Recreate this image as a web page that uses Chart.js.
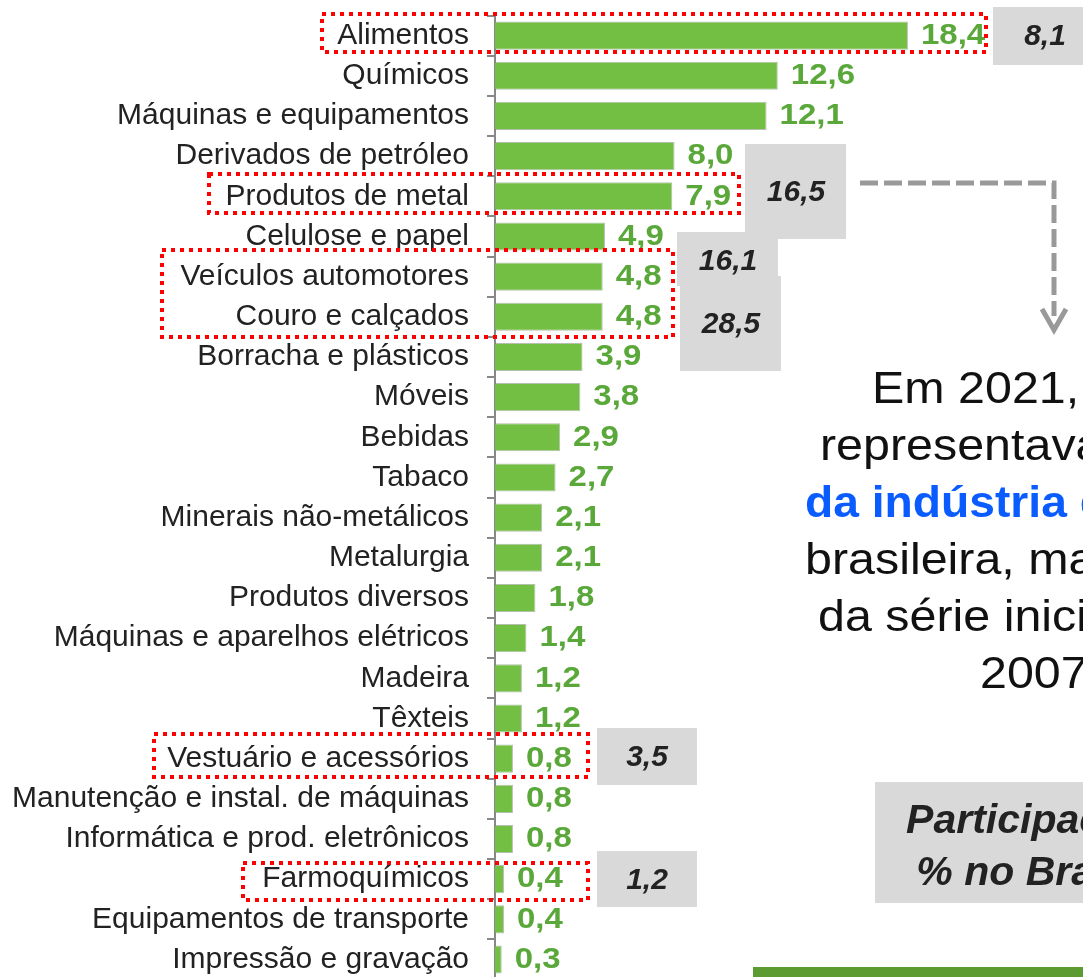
<!DOCTYPE html>
<html>
<head>
<meta charset="utf-8">
<script src="https://cdn.jsdelivr.net/npm/chart.js@4"></script>
<style>
  html, body { margin: 0; padding: 0; background: #fff; overflow: hidden; }
  #wrap { width: 1083px; height: 990px; position: relative; }
</style>
</head>
<body>
<div id="wrap"><canvas id="myChart"></canvas></div>
<script>
// participação dos setores (%)
var setores = [
  "Alimentos", "Químicos", "Máquinas e equipamentos", "Derivados de petróleo",
  "Produtos de metal", "Celulose e papel", "Veículos automotores", "Couro e calçados",
  "Borracha e plásticos", "Móveis", "Bebidas", "Tabaco",
  "Minerais não-metálicos", "Metalurgia", "Produtos diversos",
  "Máquinas e aparelhos elétricos", "Madeira", "Têxteis",
  "Vestuário e acessórios", "Manutenção e instal. de máquinas",
  "Informática e prod. eletrônicos", "Farmoquímicos",
  "Equipamentos de transporte", "Impressão e gravação"
];
var valores = [18.4, 12.6, 12.1, 8.0, 7.9, 4.9, 4.8, 4.8, 3.9, 3.8, 2.9, 2.7,
               2.1, 2.1, 1.8, 1.4, 1.2, 1.2, 0.8, 0.8, 0.8, 0.4, 0.4, 0.3];

// % no Brasil (caixas cinzas)
var partBrasil = ["8,1", "16,5", "16,1", "28,5", "3,5", "1,2"];

var corBarra = "#72bf44";
var corValor = "#5aa83a";
var fonte = "'Liberation Sans', Arial, sans-serif";
Chart.defaults.font.family = fonte;

function fmt(v) { return v.toFixed(1).replace(".", ","); }

// texto com leve esticamento horizontal
function texto(ctx, s, x, y, sx, align) {
  ctx.save();
  ctx.translate(x, y);
  ctx.scale(sx, 1);
  ctx.textAlign = align || "left";
  ctx.fillText(s, 0, 0);
  ctx.restore();
}

var extras = {
  id: "extras",
  afterDatasetsDraw: function(chart) {
    var ctx = chart.ctx;
    var meta = chart.getDatasetMeta(0);

    // rótulos de valor
    ctx.save();
    ctx.font = "bold 30px " + fonte;
    ctx.textBaseline = "middle";
    meta.data.forEach(function(bar, i) {
      ctx.save();
      ctx.translate(bar.x + 13, bar.y);
      ctx.scale(1.1, 1);
      ctx.strokeStyle = "rgba(255,255,255,0.9)";
      ctx.lineWidth = 3;
      ctx.lineJoin = "round";
      ctx.strokeText(fmt(valores[i]), 0, 0);
      ctx.fillStyle = corValor;
      ctx.fillText(fmt(valores[i]), 0, 0);
      ctx.restore();
    });
    ctx.restore();

    // caixas cinzas
    var caixas = [
      [993, 7, 1100, 65, 1045, 37],
      [745, 144, 846, 239, 796, 193],
      [677, 232, 778, 286, 728, 262],
      [680, 276, 781, 371, 731, 325],
      [597, 728, 697, 785, 647, 758],
      [597, 851, 697, 907, 647, 881]
    ];
    ctx.save();
    ctx.fillStyle = "#d9d9d9";
    caixas.forEach(function(c) { ctx.fillRect(c[0], c[1], c[2] - c[0], c[3] - c[1]); });
    ctx.fillStyle = "#222";
    ctx.font = "italic bold 30px " + fonte;
    ctx.textBaseline = "middle";
    caixas.forEach(function(c, i) { texto(ctx, partBrasil[i], c[4], c[5], 1, "center"); });
    ctx.restore();

    // caixas pontilhadas vermelhas
    var pont = [
      [322, 14, 986, 52],
      [209, 174, 739, 213],
      [162, 250, 673, 337],
      [154, 734, 588, 777],
      [243, 863, 588, 900]
    ];
    ctx.save();
    ctx.strokeStyle = "#ff0000";
    ctx.lineWidth = 4;
    ctx.setLineDash([4, 5]);
    pont.forEach(function(b) { ctx.strokeRect(b[0], b[1], b[2] - b[0], b[3] - b[1]); });
    ctx.restore();

    // seta tracejada
    ctx.save();
    ctx.strokeStyle = "#999";
    ctx.lineWidth = 5;
    ctx.setLineDash([18, 6]);
    ctx.beginPath();
    ctx.moveTo(860, 183);
    ctx.lineTo(1054, 183);
    ctx.lineTo(1054, 316);
    ctx.stroke();
    ctx.setLineDash([]);
    ctx.beginPath();
    ctx.moveTo(1042, 309);
    ctx.lineTo(1054, 330);
    ctx.lineTo(1066, 309);
    ctx.stroke();
    ctx.restore();

    // texto à direita
    ctx.save();
    ctx.textBaseline = "alphabetic";
    ctx.fillStyle = "#111";
    ctx.font = "44px " + fonte;
    texto(ctx, "Em 2021, o setor", 872, 403, 1.1);
    texto(ctx, "representava", 820, 460, 1.1);
    ctx.fillStyle = "#0b5cff";
    ctx.font = "bold 44px " + fonte;
    texto(ctx, "da indústria de transformação", 805, 517, 1.05);
    ctx.fillStyle = "#111";
    ctx.font = "44px " + fonte;
    texto(ctx, "brasileira, maior", 805, 574, 1.1);
    texto(ctx, "da série iniciada em", 818, 631, 1.1);
    texto(ctx, "2007.", 980, 688, 1.1);
    ctx.restore();

    // caixa "Participação % no Brasil"
    ctx.save();
    ctx.fillStyle = "#d9d9d9";
    ctx.fillRect(875, 782, 320, 121);
    ctx.fillStyle = "#222";
    ctx.font = "italic bold 41px " + fonte;
    texto(ctx, "Participação", 1028, 833, 1, "center");
    texto(ctx, "% no Brasil", 1028, 885, 1, "center");
    ctx.restore();

    // faixa verde inferior
    ctx.fillStyle = "#5b9b32";
    ctx.fillRect(753, 967, 330, 12);
  }
};

new Chart("myChart", {
  type: "bar",
  data: {
    labels: setores,
    datasets: [{
      data: valores,
      backgroundColor: corBarra,
      borderColor: "rgba(120,140,110,0.55)",
      borderWidth: 1,
      borderSkipped: "left",
      categoryPercentage: 1,
      barPercentage: 0.7
    }]
  },
  options: {
    indexAxis: "y",
    responsive: true,
    maintainAspectRatio: false,
    animation: false,
    layout: { padding: { top: 15.5, bottom: 10.4, left: 0, right: 0 } },
    plugins: { legend: { display: false }, tooltip: { enabled: false } },
    scales: {
      x: { display: false, min: 0, max: 26.2 },
      y: {
        afterFit: function(s) { s.width = 495; s.paddingTop = 0; s.paddingBottom = 0; },
        ticks: {
          autoSkip: false,
          padding: 18,
          color: "#222",
          font: { size: 30 }
        },
        grid: { drawOnChartArea: false, offset: true, tickLength: 8, color: "#888", lineWidth: 2 },
        border: { color: "#888", width: 2 }
      }
    }
  },
  plugins: [extras]
});
</script>
</body>
</html>
